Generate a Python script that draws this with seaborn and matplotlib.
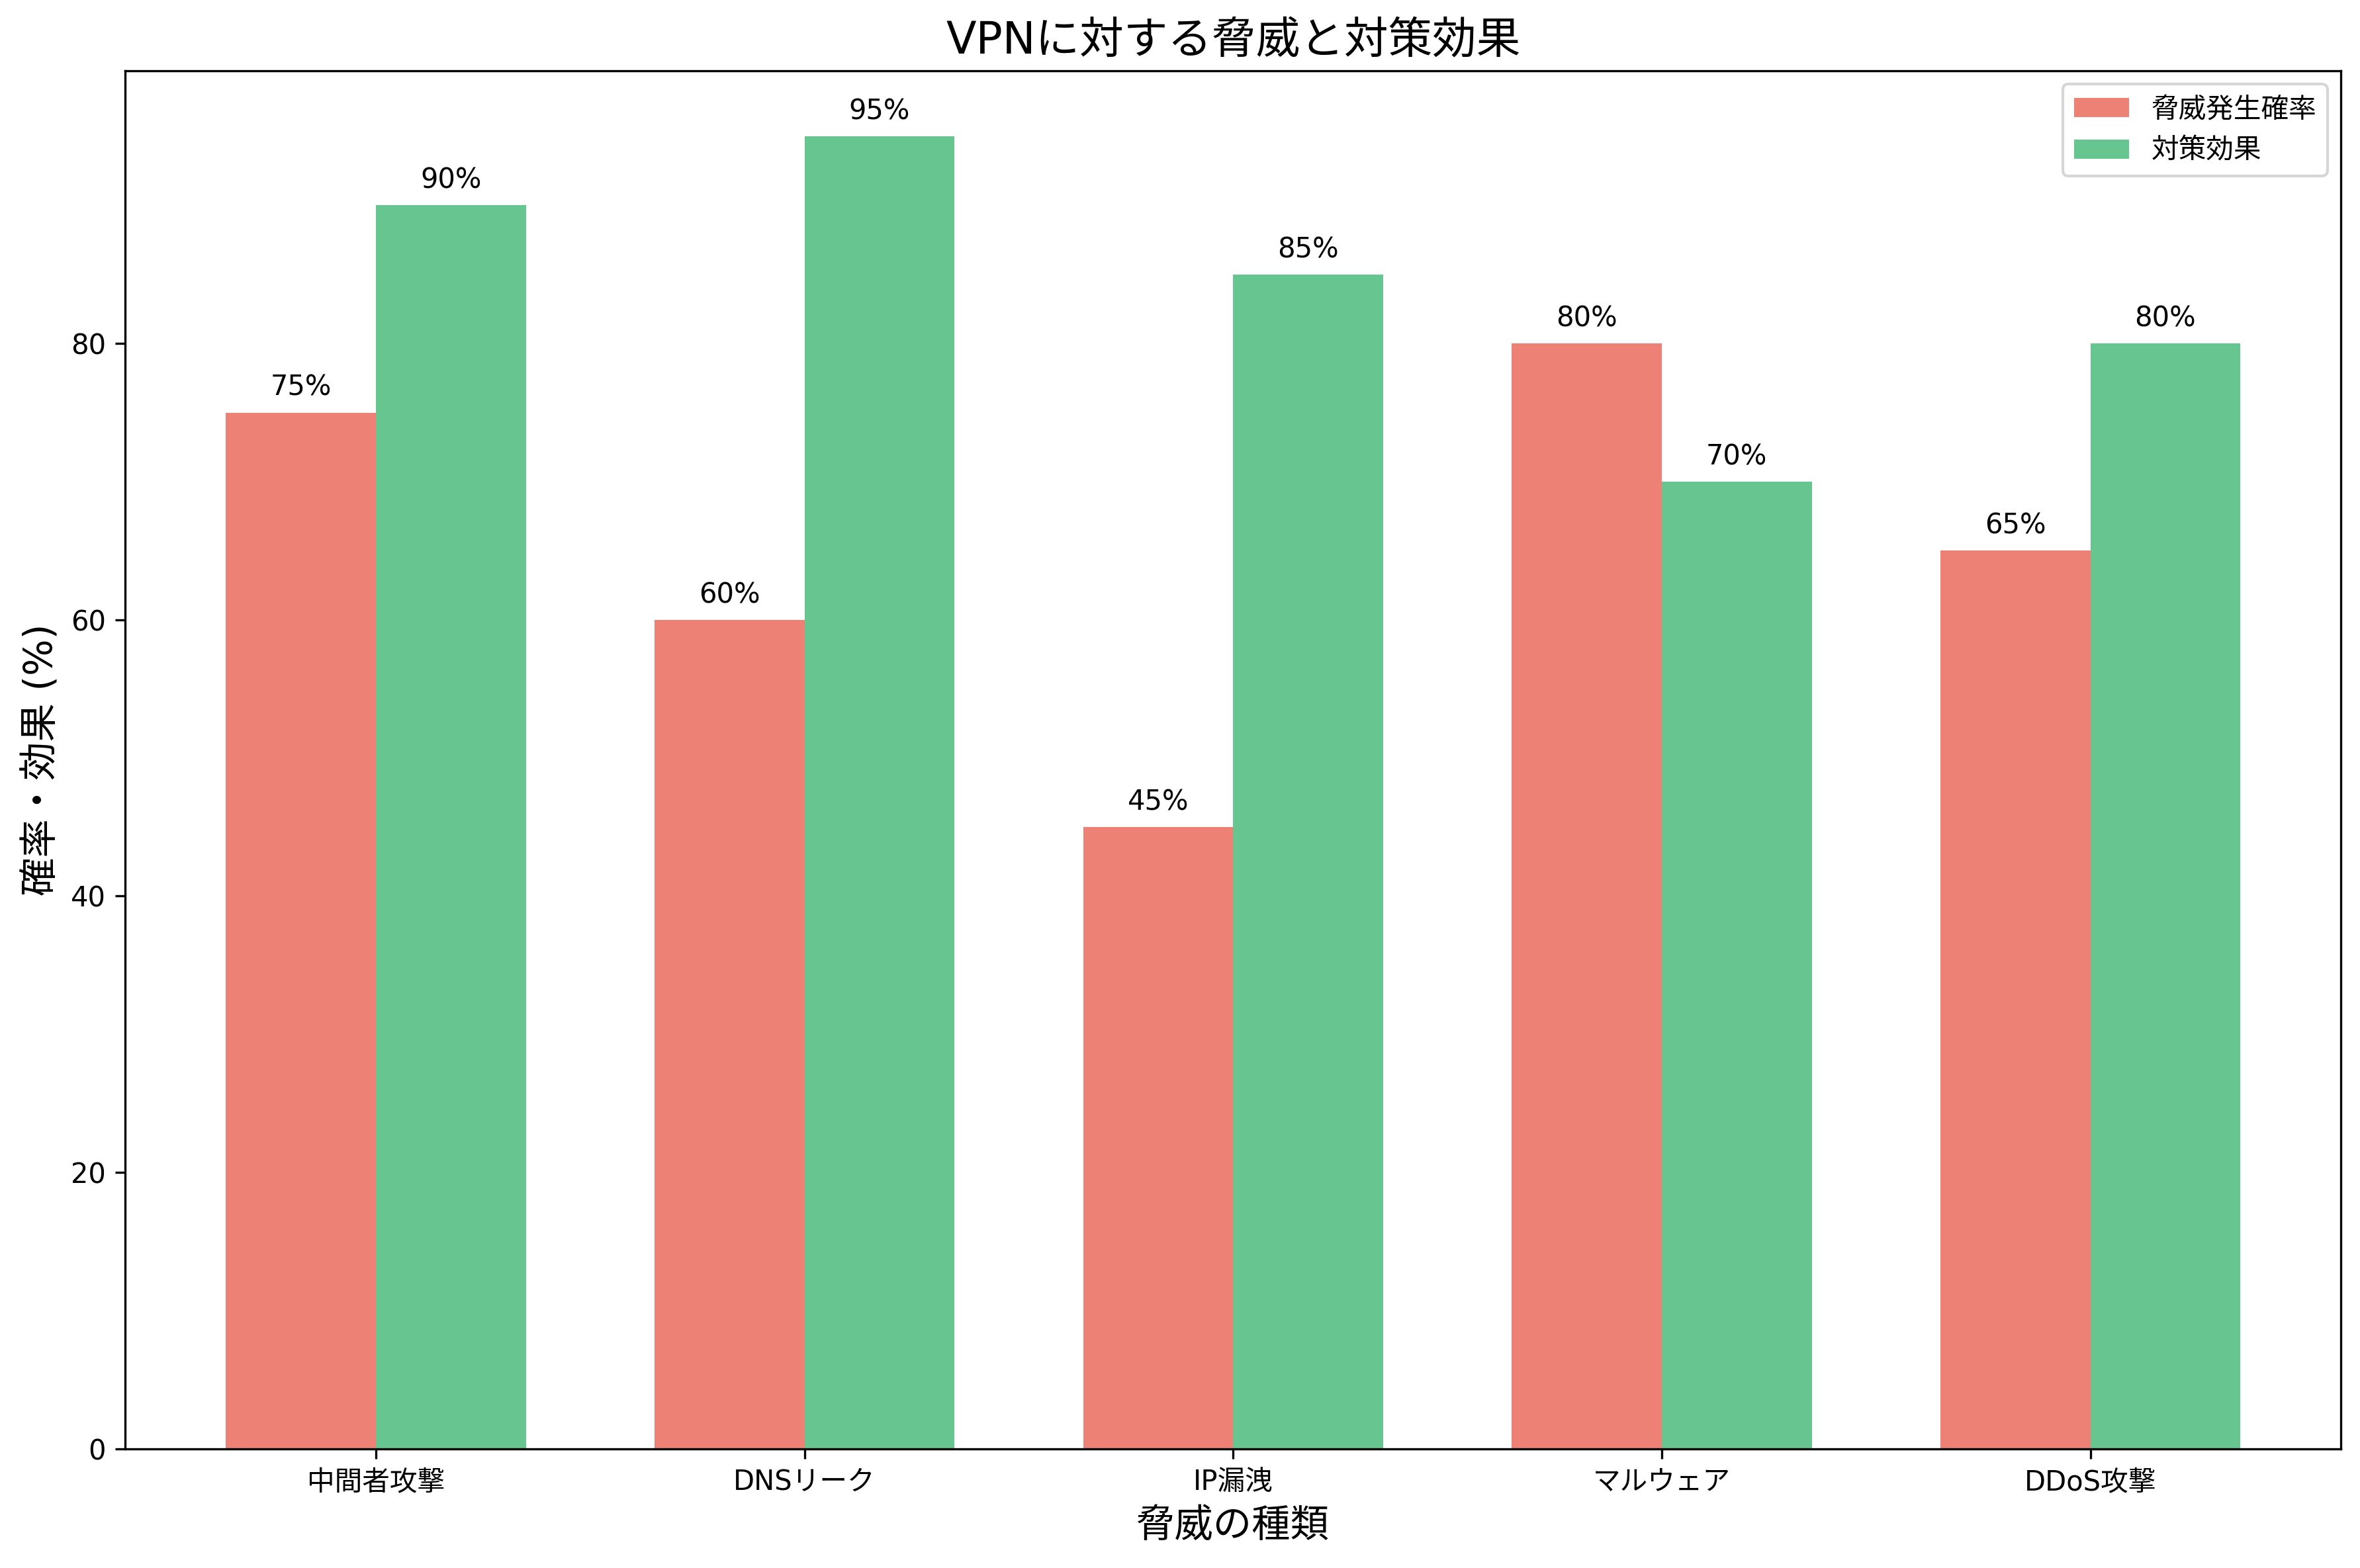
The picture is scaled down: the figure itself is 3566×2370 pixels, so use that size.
import matplotlib
matplotlib.use("Agg")
import matplotlib.pyplot as plt
import seaborn as sns
import pandas as pd

plt.rcParams['font.family'] = ['DejaVu Sans', 'Noto Sans CJK JP']

threats = ['中間者攻撃', 'DNSリーク', 'IP漏洩', 'マルウェア', 'DDoS攻撃']
risk = [75, 60, 45, 80, 65]
effect = [90, 95, 85, 70, 80]
series = ['脅威発生確率', '対策効果']

df = pd.DataFrame({
    'threat': threats * 2,
    'value': risk + effect,
    'series': [series[0]] * len(threats) + [series[1]] * len(threats),
})

fig, ax = plt.subplots(figsize=(3566 / 300, 2370 / 300), dpi=300)
sns.barplot(data=df, x='threat', y='value', hue='series', order=threats,
            hue_order=series, palette=['#e74c3c', '#27ae60'], alpha=0.7,
            width=0.7, saturation=1, ax=ax)

for cont in ax.containers:
    ax.bar_label(cont, labels=[f'{int(v)}%' for v in cont.datavalues],
                 padding=4, fontsize=10)

ax.set_xlim(-0.585, len(threats) - 1 + 0.585)
ax.set_ylim(0, 99.75)
ax.set_title('VPNに対する脅威と対策効果', fontsize=16)
ax.set_xlabel('脅威の種類', fontsize=14)
ax.set_ylabel('確率・効果 (%)', fontsize=14)
ax.legend(loc='upper right', fontsize=10)

fig.subplots_adjust(left=0.053, right=0.992, top=0.955, bottom=0.076)
fig.savefig('out.png', dpi=300)
